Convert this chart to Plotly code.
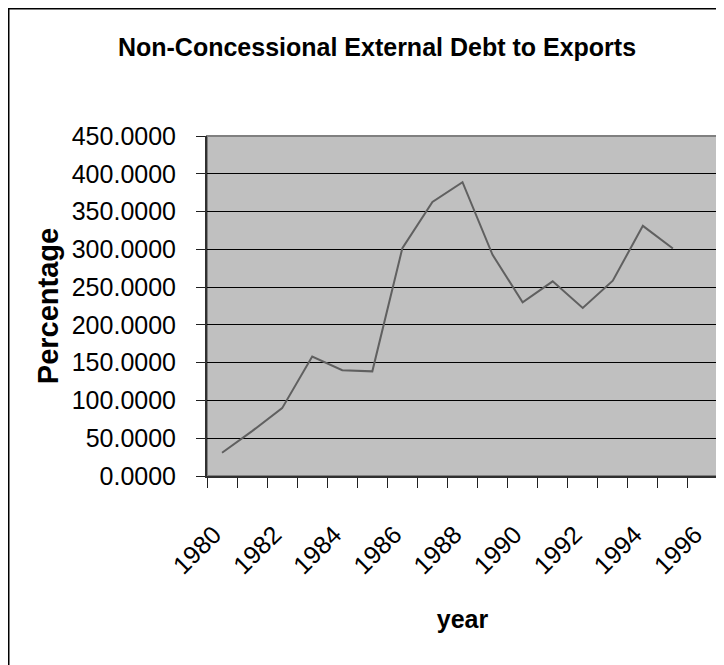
import plotly.graph_objects as go

years = [str(y) for y in range(1980, 1997)]
ratio = [30.8, 59.4, 89.8, 158.0, 140.0, 138.5, 301.6, 362.8, 388.8,
         292.8, 229.9, 257.6, 222.4, 258.5, 331.1, 301.2, None]
tick_text = [y if int(y) % 2 == 0 else "" for y in years]
y_ticks = [0, 50, 100, 150, 200, 250, 300, 350, 400, 450]

FONT = "Liberation Sans, Arial, sans-serif"

fig = go.Figure()
fig.add_trace(go.Scatter(
    x=years, y=ratio, mode="lines",
    line=dict(color="#606060", width=2),
    connectgaps=False, showlegend=False, hoverinfo="x+y",
))

# the page body adds an 8px margin, so the figure is 8px smaller than the window
W, H = 716, 657
L, R, T, B = 199, 6, 128, 189
PW = W - L - R

fig.update_layout(
    width=W, height=H,
    margin=dict(l=L, r=R, t=T, b=B, pad=0),
    paper_bgcolor="white",
    plot_bgcolor="#C0C0C0",
    font=dict(family=FONT, color="black"),
    title=dict(
        text="<b>Non-Concessional External Debt to Exports</b>",
        font=dict(family=FONT, size=25, color="black"),
        xref="paper", x=(369 - L) / PW, xanchor="center",
        yref="container", y=1 - 39 / H, yanchor="middle",
    ),
    xaxis=dict(
        type="category",
        tickmode="array", tickvals=years, ticktext=tick_text,
        tickson="boundaries",
        ticks="outside", ticklen=10, tickwidth=1, tickcolor="#202020",
        tickangle=-45,
        tickfont=dict(family=FONT, size=25, color="black"),
        ticklabelstandoff=32,
        ticklabelshift=-8,
        showline=True, linecolor="#303030", linewidth=2,
        showgrid=False, zeroline=False,
        title=dict(text="<b>year</b>", font=dict(family=FONT, size=25, color="black"),
                   standoff=32),
        range=[-0.5, 16.5],
    ),
    yaxis=dict(
        range=[0, 450], tickmode="array", tickvals=y_ticks,
        tickformat=".4f",
        ticks="outside", ticklen=9, tickwidth=1, tickcolor="#202020",
        tickfont=dict(family=FONT, size=25, color="black"),
        ticklabelstandoff=15,
        showline=True, linecolor="#303030", linewidth=2,
        showgrid=True, gridcolor="black", gridwidth=1,
        zeroline=False,
        title=dict(text="<b>Percentage</b>", font=dict(family=FONT, size=29, color="black"),
                   standoff=5),
    ),
    shapes=[
        dict(type="rect", xref="paper", yref="paper", x0=0, x1=1, y0=0, y1=1,
             line=dict(color="#808080", width=2), layer="below"),
        dict(type="rect", xref="paper", yref="paper",
             xsizemode="pixel", ysizemode="pixel", xanchor=0, yanchor=0,
             x0=0.75 - L, x1=W + 10 - L, y0=-(B + 10), y1=(H - B) - 0.75,
             line=dict(color="black", width=1.5)),
    ],
)

fig.write_html("out.html")
